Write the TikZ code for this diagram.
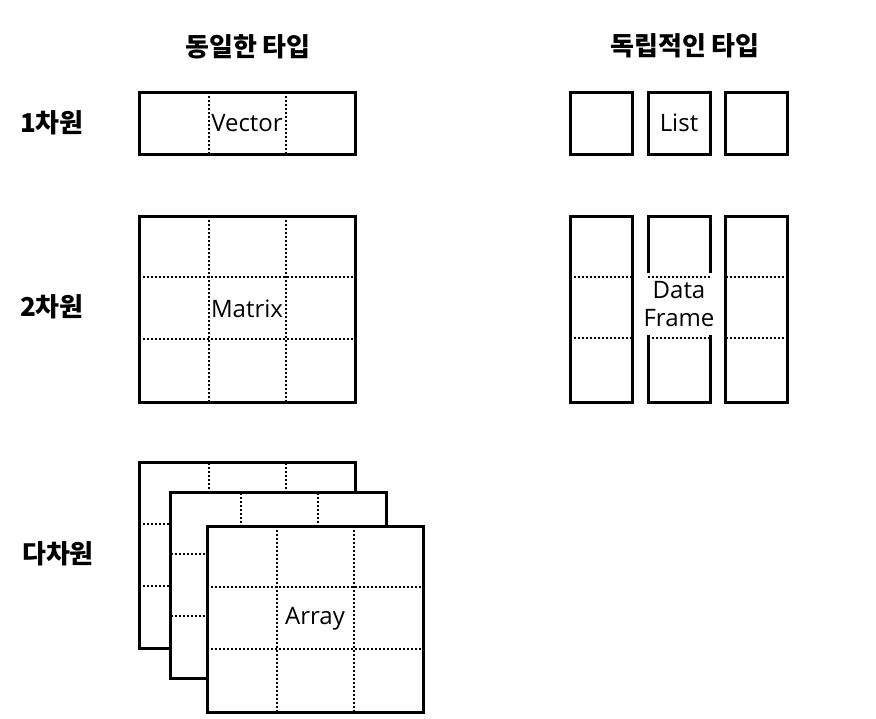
\documentclass[tikz,border=0pt]{standalone}
\usepackage{fontspec}
\setmainfont{Open Sans}
\newfontfamily\kofont{Noto Sans CJK KR}
\begin{document}
\begin{tikzpicture}[x=1pt,y=-1pt,
    box/.style={draw,line width=3pt,rectangle,outer sep=0pt,inner sep=0pt,fill=white},
    grid/.style={line width=2pt,dash pattern=on 2pt off 2pt},
    head/.style={font=\kofont\bfseries\fontsize{26}{30}\selectfont},
    txt/.style={font=\fontsize{24}{28}\selectfont}]
  \useasboundingbox (0,0) rectangle (876,718);
  % headings
  \node[head] (same) at (248,47) {동일한 타입};
  \node[head] (indep) at (685,46) {독립적인 타입};
  \node[head] (dim1) at (52,123) {1차원};
  \node[head] (dim2) at (52,307) {2차원};
  \node[head] (dimn) at (58,554) {다차원};
  % vector
  \node[box,txt,minimum width=216pt,minimum height=62pt] (vec) at (247,123) {Vector};
  \draw[grid] (vec.north west) ++(70,0) -- ++(0,62);
  \draw[grid] (vec.north west) ++(147,0) -- ++(0,62);
  % matrix
  \node[box,txt,minimum width=216pt,minimum height=186pt] (mat) at (247,309) {Matrix};
  \draw[grid] (mat.north west) ++(70,0) -- ++(0,186);
  \draw[grid] (mat.north west) ++(147,0) -- ++(0,186);
  \draw[grid] (mat.north west) ++(0,61) -- ++(216,0);
  \draw[grid] (mat.north west) ++(0,123) -- ++(216,0);
  % array
  \node[box,minimum width=216pt,minimum height=186pt] (arr1) at (247,555.5) {};
  \draw[grid] (arr1.north west) ++(70,0) -- ++(0,186);
  \draw[grid] (arr1.north west) ++(147,0) -- ++(0,186);
  \draw[grid] (arr1.north west) ++(0,61) -- ++(216,0);
  \draw[grid] (arr1.north west) ++(0,123) -- ++(216,0);
  \node[box,minimum width=216pt,minimum height=186pt] (arr2) at (278.5,585.5) {};
  \draw[grid] (arr2.north west) ++(70,0) -- ++(0,186);
  \draw[grid] (arr2.north west) ++(147,0) -- ++(0,186);
  \draw[grid] (arr2.north west) ++(0,61) -- ++(216,0);
  \draw[grid] (arr2.north west) ++(0,123) -- ++(216,0);
  \node[box,txt,minimum width=216pt,minimum height=186pt] (arr3) at (315,619) {Array};
  \draw[grid] (arr3.north west) ++(70,0) -- ++(0,186);
  \draw[grid] (arr3.north west) ++(147,0) -- ++(0,186);
  \draw[grid] (arr3.north west) ++(0,61) -- ++(216,0);
  \draw[grid] (arr3.north west) ++(0,123) -- ++(216,0);
  % list
  \node[box,minimum width=62pt,minimum height=62pt] (list1) at (601,123) {};
  \node[box,txt,minimum width=62pt,minimum height=62pt] (list2) at (679,123) {List};
  \node[box,minimum width=62pt,minimum height=62pt] (list3) at (756.5,123) {};
  % data frame
  \node[box,minimum width=62pt,minimum height=186pt] (df1) at (601,309) {};
  \node[box,minimum width=62pt,minimum height=186pt] (df2) at (679,309) {};
  \node[box,minimum width=62pt,minimum height=186pt] (df3) at (756.5,309) {};
  \node[txt,fill=white,align=center,inner sep=0pt,
    minimum width=74pt,minimum height=62pt] (dftxt) at (679,304) {Data\\Frame};
  \draw[grid] (df1.north west) ++(0,61) -- ++(62,0);
  \draw[grid] (df1.north west) ++(0,122) -- ++(62,0);
  \draw[grid] (df2.north west) ++(0,61) -- ++(62,0);
  \draw[grid] (df2.north west) ++(0,122) -- ++(62,0);
  \draw[grid] (df3.north west) ++(0,61) -- ++(62,0);
  \draw[grid] (df3.north west) ++(0,122) -- ++(62,0);
\end{tikzpicture}
\end{document}
